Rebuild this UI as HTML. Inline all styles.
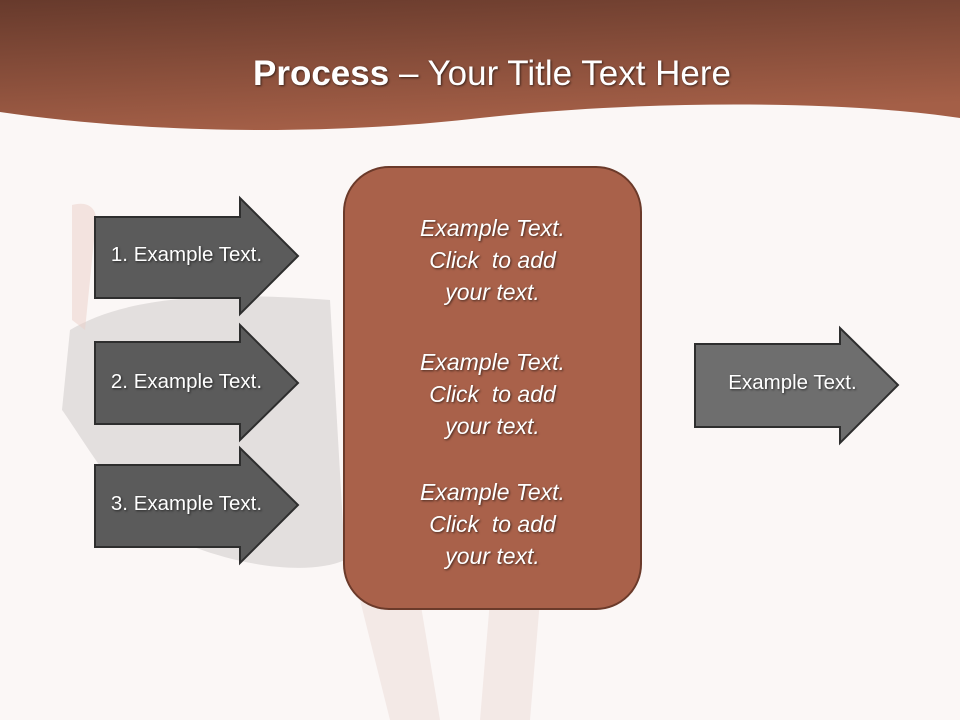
<!DOCTYPE html>
<html><head><meta charset="utf-8"><style>
html,body{margin:0;padding:0}
body{width:960px;height:720px;position:relative;overflow:hidden;background:#fbf7f6;font-family:"Liberation Sans",sans-serif}
svg{position:absolute;left:0;top:0}
.t{position:absolute;color:#fff;text-align:center;text-shadow:1px 1px 2px rgba(0,0,0,.6);white-space:nowrap}
</style></head><body>
<svg width="960" height="720" viewBox="0 0 960 720">
<defs>
<linearGradient id="hg" x1="0" y1="0" x2="0.3" y2="1">
<stop offset="0" stop-color="#673a2c"/><stop offset="1" stop-color="#a45f47"/>
</linearGradient>
</defs>
<path d="M70,330 C120,300 200,290 330,300 L345,560 C300,580 200,560 140,520 C100,470 70,420 62,410 Z" fill="#9a9798" opacity="0.25"/>
<path d="M360,600 L390,720 L440,720 L420,600 Z" fill="#efe0dc" opacity="0.6"/>
<path d="M490,600 L480,720 L530,720 L540,600 Z" fill="#efe0dc" opacity="0.6"/>
<path d="M72,205 C90,200 100,210 95,230 L85,330 L72,320 Z" fill="#ecd0c8" opacity="0.5"/>
<path d="M0,0 H960 V118 C840,100 640,100 480,118 C360,132 180,138 0,112 Z" fill="url(#hg)"/>
<g fill="#5b5b5b" stroke="#2e2e2e" stroke-width="2">
<path d="M95,217 H240 V198 L298,256 L240,314 V298 H95 Z"/>
<path d="M95,342 H240 V325 L298,383 L240,440 V424 H95 Z"/>
<path d="M95,465 H240 V448 L298,505 L240,563 V547 H95 Z"/>
</g>
<path d="M695,344 H840 V328 L898,385 L840,443 V427 H695 Z" fill="#6e6e6e" stroke="#2e2e2e" stroke-width="2"/>
<rect x="344" y="167" width="297" height="442" rx="45" fill="#a9614a" stroke="#6b3a2a" stroke-width="2"/>
</svg>
<div class="t" style="left:0;width:984px;top:53px;font-size:35px;line-height:42px"><b>Process</b> – Your Title Text Here</div>
<div class="t" style="left:95px;width:183px;top:243px;font-size:20.5px">1. Example Text.</div>
<div class="t" style="left:95px;width:183px;top:370px;font-size:20.5px">2. Example Text.</div>
<div class="t" style="left:95px;width:183px;top:492px;font-size:20.5px">3. Example Text.</div>
<div class="t" style="left:695px;width:195px;top:371px;font-size:20.5px">Example Text.</div>
<div class="t" style="left:344px;width:297px;top:212px;font-size:23px;line-height:32px;font-style:italic">Example Text.<br>Click&nbsp; to add<br>your text.</div>
<div class="t" style="left:344px;width:297px;top:346px;font-size:23px;line-height:32px;font-style:italic">Example Text.<br>Click&nbsp; to add<br>your text.</div>
<div class="t" style="left:344px;width:297px;top:476px;font-size:23px;line-height:32px;font-style:italic">Example Text.<br>Click&nbsp; to add<br>your text.</div>
</body></html>
